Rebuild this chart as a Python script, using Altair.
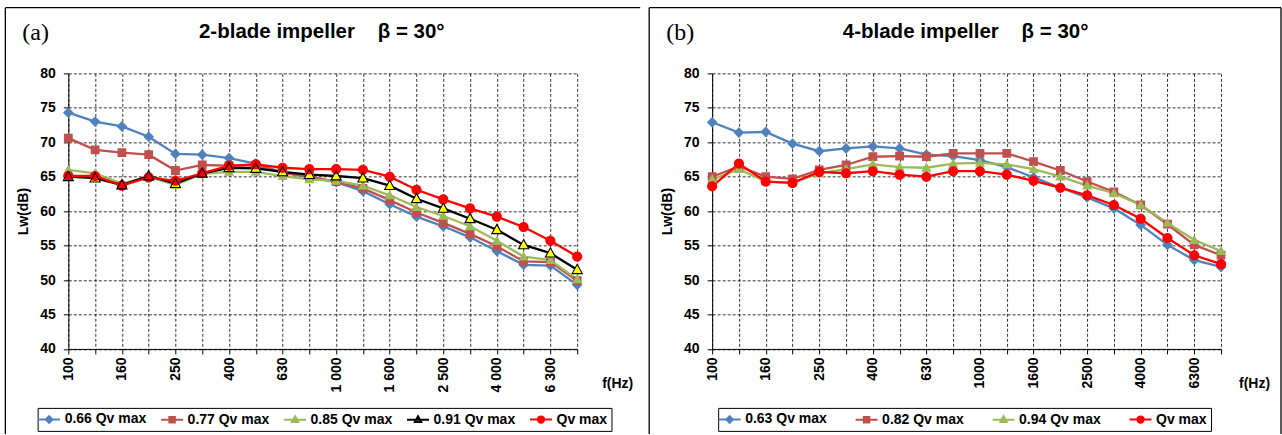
import altair as alt
import pandas as pd

# ---------------- data ----------------
freq_a = ["100", "125", "160", "200", "250", "315", "400", "500", "630", "800",
          "1 000", "1 250", "1 600", "2 000", "2 500", "3 150", "4 000", "5 000", "6 300", "8 000"]
freq_b = ["100", "125", "160", "200", "250", "315", "400", "500", "630", "800",
          "1000", "1250", "1600", "2000", "2500", "3150", "4000", "5000", "6300", "8000"]
shown_a = ["100", "160", "250", "400", "630", "1 000", "1 600", "2 500", "4 000", "6 300"]
shown_b = ["100", "160", "250", "400", "630", "1000", "1600", "2500", "4000", "6300"]

series_a = ["0.66 Qv max", "0.77 Qv max", "0.85 Qv max", "0.91 Qv max", "Qv max"]
a_066 = [74.3, 73.0, 72.3, 70.8, 68.3, 68.2, 67.7, 66.9, 65.6, 64.9, 64.2, 62.9, 61.0, 59.2, 57.8, 56.2, 54.2, 52.2, 52.1, 49.3]
a_077 = [70.6, 68.9, 68.5, 68.2, 65.9, 66.7, 66.6, 66.6, 65.6, 65.0, 64.3, 63.3, 61.6, 59.8, 58.3, 56.7, 54.9, 52.7, 52.6, 49.9]
a_085 = [66.0, 65.5, 64.0, 65.0, 63.8, 65.4, 65.7, 65.7, 65.1, 64.6, 64.4, 63.7, 62.3, 60.6, 59.3, 57.8, 55.7, 53.4, 52.9, 50.1]
a_091 = [65.0, 64.8, 63.8, 65.1, 64.0, 65.5, 66.3, 66.2, 65.7, 65.3, 65.1, 64.8, 63.7, 61.8, 60.4, 58.9, 57.3, 55.1, 53.9, 51.5]
a_100 = [65.1, 65.1, 63.7, 64.9, 64.4, 65.5, 66.6, 66.8, 66.3, 66.1, 66.1, 66.0, 65.0, 63.1, 61.7, 60.4, 59.2, 57.7, 55.7, 53.4]

series_b = ["0.63 Qv max", "0.82 Qv max", "0.94 Qv max", "Qv max"]
b_063 = [72.9, 71.4, 71.5, 69.8, 68.7, 69.1, 69.4, 69.1, 68.2, 68.0, 67.4, 66.4, 64.9, 63.4, 62.0, 60.4, 58.0, 55.1, 52.9, 51.9]
b_082 = [65.0, 66.5, 65.0, 64.7, 66.0, 66.7, 67.9, 68.0, 67.9, 68.4, 68.4, 68.4, 67.2, 65.9, 64.3, 62.8, 60.9, 58.1, 55.1, 53.6]
b_094 = [64.6, 66.1, 64.3, 64.1, 65.5, 66.1, 66.8, 66.4, 66.3, 66.9, 67.0, 66.8, 66.1, 65.0, 63.7, 62.6, 60.9, 58.3, 55.8, 54.2]
b_100 = [63.6, 66.9, 64.3, 64.1, 65.7, 65.5, 65.8, 65.3, 65.0, 65.8, 65.8, 65.3, 64.4, 63.4, 62.3, 60.9, 58.9, 56.1, 53.6, 52.3]

y_ticks = [40, 45, 50, 55, 60, 65, 70, 75, 80]

# ---------------- styles ----------------
BLUE, BROWN, GREEN, RED = "#4F81BD", "#C0504D", "#9BBB59", "#FF0000"
SANS = "Liberation Sans"
SERIF = "Liberation Serif"

# marker paths: a horizontal stub (only visible when stroked, i.e. in legend) + the filled marker
STUB = "M-1.8,0H1.8"
DIAMOND = STUB + "M0,-0.55L0.55,0L0,0.55L-0.55,0Z"
SQUARE = STUB + "M-0.45,-0.45H0.45V0.45H-0.45Z"
TRIANGLE = STUB + "M0,-0.55L0.52,0.4H-0.52Z"
CIRCLE = STUB + "M-0.52,0A0.52,0.52,0,1,0,0.52,0A0.52,0.52,0,1,0,-0.52,0Z"
TRIANGLE_OUTLINE = "M0,-0.55L0.52,0.4H-0.52Z"

W, H = 509, 275.6
PT_SIZE = 380
NB = "\u00a0"


def make_panel(freqs, shown, names, values, line_cols, fill_cols, shapes, title, letter,
               legend_x, legend_gap, ftitle_x, frame_right, outline_series=None):
    rows = []
    for name, vals in zip(names, values):
        for i, (f, v) in enumerate(zip(freqs, vals)):
            rows.append({"freq": f, "series": name, "Lw": v, "idx": i})
    df = pd.DataFrame(rows)

    shown_js = "[" + ",".join("'" + s + "'" for s in shown) + "]"
    x = alt.X("freq:O", sort=freqs,
              scale=alt.Scale(type="point", domain=freqs, padding=0),
              axis=alt.Axis(title="f(Hz)", labelAngle=270, grid=True,
                            labelExpr=f"indexof({shown_js}, datum.value) >= 0 ? datum.label : ''",
                            titleX=ftitle_x, titleY=34.7, titleAngle=0, titleAlign="center",
                            titleBaseline="middle", labelPadding=3))
    y = alt.Y("Lw:Q", scale=alt.Scale(domain=[40, 80], nice=False, zero=False),
              axis=alt.Axis(title="Lw(dB)", values=y_ticks, labelPadding=8, grid=True,
                            titleX=-45, titleY=H / 2, titleAngle=270, titleAlign="center",
                            titleBaseline="middle"))

    leg = alt.Legend(title=None, orient="none", legendX=legend_x, legendY=334.6,
                     direction="horizontal", strokeColor="black", fillColor="white",
                     padding=4, symbolSize=149, symbolStrokeWidth=2,
                     labelFont=SANS, labelFontSize=14, labelFontWeight="bold",
                     labelColor="black", labelOffset=8, columnPadding=legend_gap)

    lines = alt.Chart(df).mark_line(strokeWidth=2.3).encode(
        x=x, y=y,
        stroke=alt.Stroke("series:N", scale=alt.Scale(domain=names, range=line_cols), legend=leg),
        order=alt.Order("idx:Q"),
    )
    points = alt.Chart(df).mark_point(filled=True, size=PT_SIZE, opacity=1).encode(
        x=x, y=y,
        fill=alt.Fill("series:N", scale=alt.Scale(domain=names, range=fill_cols), legend=leg),
        shape=alt.Shape("series:N", scale=alt.Scale(domain=names, range=shapes), legend=leg),
    )
    layers = [lines, points]
    if outline_series is not None:
        outline = alt.Chart(df).transform_filter(
            alt.datum.series == outline_series
        ).mark_point(shape=TRIANGLE_OUTLINE, size=PT_SIZE, filled=False,
                     stroke="black", strokeWidth=1.1, opacity=1).encode(x=x, y=y)
        layers.append(outline)

    one = pd.DataFrame({"k": [0]})
    frame_top = -65.7
    frame_bot = 433.5 - 72.7
    fl = alt.Chart(one).mark_rule(color="black", strokeWidth=1.3).encode(
        x=alt.value(-63), y=alt.value(frame_top), y2=alt.value(frame_bot))
    ft = alt.Chart(one).mark_rule(color="black", strokeWidth=1.3).encode(
        x=alt.value(-63), x2=alt.value(frame_right), y=alt.value(frame_top))
    frame = [fl, ft]
    if frame_right < 570:
        fr = alt.Chart(one).mark_rule(color="black", strokeWidth=1.3).encode(
            x=alt.value(frame_right), y=alt.value(frame_top), y2=alt.value(frame_bot))
        frame.append(fr)
    lab = alt.Chart(one).mark_text(font=SERIF, fontSize=24, align="left",
                                   baseline="alphabetic", color="black").encode(
        x=alt.value(-46), y=alt.value(-33), text=alt.value(letter))
    ttl = alt.Chart(one).mark_text(font=SANS, fontSize=20.5, fontWeight="bold", align="center",
                                   baseline="alphabetic", color="black").encode(
        x=alt.value(W / 2 - 1), y=alt.value(-35.2), text=alt.value(title))

    return alt.layer(*frame, lab, ttl, *layers).properties(width=W, height=H)


left = make_panel(freq_a, shown_a, series_a, [a_066, a_077, a_085, a_091, a_100],
                  [BLUE, BROWN, GREEN, "#000000", RED],
                  [BLUE, BROWN, GREEN, "#FFFF00", RED],
                  [DIAMOND, SQUARE, TRIANGLE, TRIANGLE, CIRCLE],
                  "2-blade impeller" + NB * 4 + "\u03b2 = 30\u00b0", "(a)",
                  legend_x=-30.7, legend_gap=10, ftitle_x=549, frame_right=572,
                  outline_series="0.91 Qv max")
right = make_panel(freq_b, shown_b, series_b, [b_063, b_082, b_094, b_100],
                   [BLUE, BROWN, GREEN, RED],
                   [BLUE, BROWN, GREEN, RED],
                   [DIAMOND, SQUARE, TRIANGLE, CIRCLE],
                   "4-blade impeller" + NB * 4 + "\u03b2 = 30\u00b0", "(b)",
                   legend_x=6, legend_gap=24, ftitle_x=542, frame_right=569)

chart = alt.hconcat(left, right, spacing=135, bounds="flush").resolve_scale(
    x="independent", y="independent", stroke="independent", fill="independent", shape="independent"
).properties(
    padding={"left": 4.35, "top": 6.35, "right": 0, "bottom": 0},
    background="white",
).configure_view(stroke=None).configure_axis(
    domainColor="black", domainWidth=1, tickColor="black", tickSize=5, tickWidth=1,
    labelFont=SANS, labelFontSize=14, labelFontWeight="bold", labelColor="black",
    titleFont=SANS, titleFontSize=14, titleFontWeight="bold", titleColor="black",
    gridColor="#000000", gridDash=[3, 2], gridOpacity=0.8, gridWidth=1,
)

chart.save("out.html", embed_options={"renderer": "svg", "actions": False})
